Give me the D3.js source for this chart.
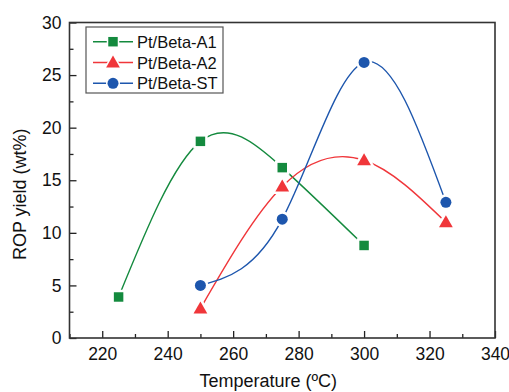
<!DOCTYPE html>
<html>
<head>
<meta charset="utf-8">
<script src="https://cdn.jsdelivr.net/npm/d3@7"></script>
<style>
  body { margin: 0; background: #fff; }
  svg { display: block; font-family: "Liberation Sans", Arial, sans-serif; }
</style>
</head>
<body>
<div id="chart"></div>
<script>
// data
const temps = [225, 250, 275, 300, 325];
const seriesNames = ["Pt/Beta-A1", "Pt/Beta-A2", "Pt/Beta-ST"];
const a1Values = [3.9, 18.7, 16.2, 8.8];        // 225..300
const a2Values = [2.8, 14.4, 16.9, 11.0];       // 250..325
const stValues = [5.0, 11.3, 26.2, 12.9];       // 250..325
const xTicks = [220, 240, 260, 280, 300, 320, 340];
const yTicks = [0, 5, 10, 15, 20, 25, 30];

const W = 509, H = 392;
const margin = { t: 22.5, r: 14, b: 54, l: 69.5 };

const series = [
  { name: seriesNames[0], color: "#148a3e", shape: "square",
    pts: a1Values.map((v, i) => [temps[i], v]) },
  { name: seriesNames[1], color: "#f0363a", shape: "triangle",
    pts: a2Values.map((v, i) => [temps[i + 1], v]) },
  { name: seriesNames[2], color: "#1d56ad", shape: "circle",
    pts: stValues.map((v, i) => [temps[i + 1], v]) },
];

const x = d3.scaleLinear().domain([210, 340]).range([margin.l, W - margin.r]);
const y = d3.scaleLinear().domain([0, 30]).range([H - margin.b, margin.t]);

const svg = d3.select("#chart").append("svg")
  .attr("width", W).attr("height", H).attr("viewBox", [0, 0, W, H]);

//
const symbolFor = (shape) => {
  if (shape === "square") return d3.symbol(d3.symbolSquare, 90);
  if (shape === "triangle") return d3.symbol(d3.symbolTriangle, 82);
  return d3.symbol(d3.symbolCircle, 95);
};

// lines
const lineGen = d3.line().curve(d3.curveNatural)
  .x((d) => x(d[0])).y((d) => y(d[1]));

const content = svg.append("g").attr("class", "content");
series.forEach((s) => {
  content.append("path")
    .attr("d", lineGen(s.pts))
    .attr("fill", "none")
    .attr("stroke", s.color)
    .attr("stroke-width", 1.4);
});
series.forEach((s) => {
  content.selectAll(null)
    .data(s.pts)
    .enter()
    .append("path")
    .attr("transform", (d) => `translate(${x(d[0])},${y(d[1]) + (s.shape === "triangle" ? 1 : 0)})`)
    .attr("d", symbolFor(s.shape))
    .attr("fill", s.color)
    .attr("stroke", "#fff")
    .attr("stroke-width", 5)
    .attr("paint-order", "stroke");
});

// axes (inward ticks)
const axisColor = "#222";
const minorX = d3.range(210, 341, 10).filter((v) => v % 20 !== 0);
const minorY = d3.range(2.5, 30, 5);

const ax = svg.append("g").attr("transform", `translate(0,${H - margin.b})`)
  .call(d3.axisBottom(x).tickValues(xTicks).tickSize(-7).tickPadding(10));
ax.append("g").call(d3.axisBottom(x).tickValues(minorX).tickSize(-4).tickFormat(""))
  .call((g) => g.select(".domain").remove());

const ay = svg.append("g").attr("transform", `translate(${margin.l},0)`)
  .call(d3.axisLeft(y).tickValues(yTicks).tickSize(-7).tickPadding(8));
ay.append("g").call(d3.axisLeft(y).tickValues(minorY).tickSize(-4).tickFormat(""))
  .call((g) => g.select(".domain").remove());

[ax, ay].forEach((g) => {
  g.selectAll(".domain").remove();
  g.selectAll("line").attr("stroke", axisColor).attr("stroke-width", 1.3);
  g.selectAll("text").attr("font-size", 17.5).attr("fill", "#111")
    .attr("font-family", "Liberation Sans, Arial, sans-serif");
});

// frame
svg.append("rect")
  .attr("x", margin.l).attr("y", margin.t)
  .attr("width", W - margin.l - margin.r)
  .attr("height", H - margin.t - margin.b)
  .attr("fill", "none").attr("stroke", "#333").attr("stroke-width", 1.6);

// titles
svg.append("text")
  .attr("x", (margin.l + W - margin.r) / 2 - 14).attr("y", 387)
  .attr("text-anchor", "middle").attr("font-size", 18).attr("fill", "#111")
  .text("Temperature (ºC)");
svg.append("text")
  .attr("transform", `translate(26,${(margin.t + H - margin.b) / 2 + 14}) rotate(-90)`)
  .attr("text-anchor", "middle").attr("font-size", 18).attr("fill", "#111")
  .text("ROP yield (wt%)");

// legend
const legend = svg.append("g").attr("class", "legend");
legend.append("rect")
  .attr("x", 86).attr("y", 27).attr("width", 137).attr("height", 66)
  .attr("fill", "#fff").attr("stroke", "#555").attr("stroke-width", 1.2);
series.forEach((s, i) => {
  const cy = 41.7 + i * 20.8;
  legend.append("line")
    .attr("x1", 93).attr("x2", 133).attr("y1", cy).attr("y2", cy)
    .attr("stroke", s.color).attr("stroke-width", 1.4);
  legend.append("path")
    .attr("transform", `translate(113,${cy + (s.shape === "triangle" ? 1 : 0)})`)
    .attr("d", symbolFor(s.shape))
    .attr("fill", s.color)
    .attr("stroke", "#fff").attr("stroke-width", 3).attr("paint-order", "stroke");
  legend.append("text")
    .attr("x", 137).attr("y", cy + 6)
    .attr("font-size", 16.5).attr("fill", "#111")
    .text(s.name);
});
</script>
</body>
</html>
